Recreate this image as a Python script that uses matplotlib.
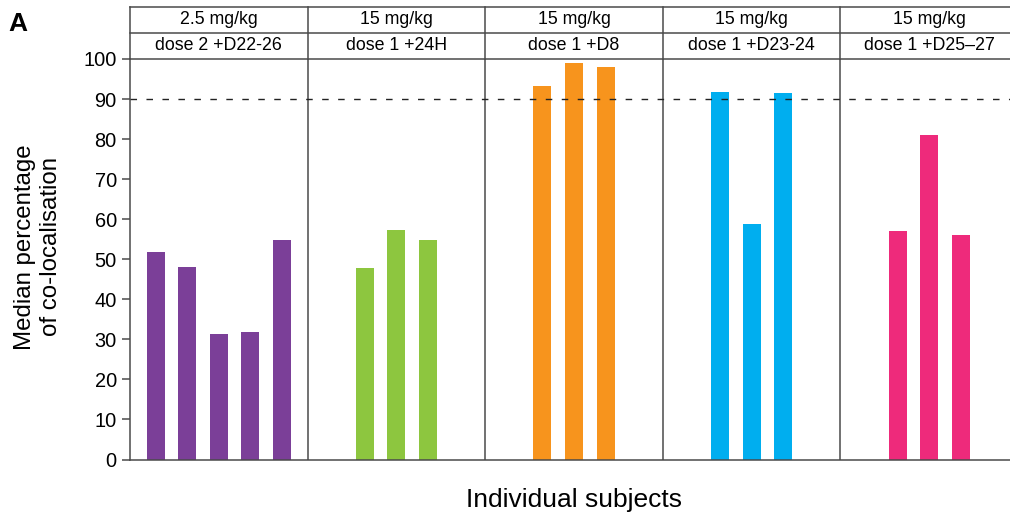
import matplotlib.pyplot as plt
import numpy as np

plt.rcParams["font.family"] = ["Liberation Sans", "DejaVu Sans"]

# ---- data ----
doses = ["2.5 mg/kg", "15 mg/kg", "15 mg/kg", "15 mg/kg", "15 mg/kg"]
timepoints = ["dose 2 +D22-26", "dose 1 +24H", "dose 1 +D8", "dose 1 +D23-24", "dose 1 +D25\u201327"]
purple_vals = [51.9, 48.0, 31.4, 31.9, 54.8]
green_vals = [47.8, 57.2, 54.8]
orange_vals = [93.2, 99.0, 98.1]
blue_vals = [91.8, 58.9, 91.5]
pink_vals = [57.1, 81.0, 56.1]
groups = [purple_vals, green_vals, orange_vals, blue_vals, pink_vals]
colors = ["#7B3F98", "#8DC63F", "#F7941D", "#00AEEF", "#EE2A7B"]
threshold = 90
yticks = list(range(0, 101, 10))

W, H = 1010, 518
fig = plt.figure(figsize=(W / 100, H / 100), dpi=100)

line_col = "#4a4a4a"
ax = fig.add_axes([130 / W, 1 - 459.5 / H, 888 / W, 400.5 / H])
hdr = fig.add_axes([130 / W, 1 - 59 / H, 888 / W, 52 / H])

step = 31.6 / 177.6
bar_w = 18 / 177.6
for p, (vals, col) in enumerate(zip(groups, colors)):
    n = len(vals)
    xs = p + 0.5 + (np.arange(n) - (n - 1) / 2) * step
    ax.bar(xs, vals, width=bar_w, color=col, zorder=2)

for p in range(1, 5):
    ax.axvline(p, color=line_col, lw=1.1, zorder=3)
ax.axhline(threshold, color="#222222", lw=1.0, linestyle=(0, (4.7, 6.8)), zorder=4)

ax.set_xlim(0, 5)
ax.set_ylim(0, 100)
ax.set_yticks(yticks)
ax.set_xticks([])
ax.tick_params(axis="y", length=6, width=1.1, color=line_col, pad=3.5, labelsize=14.4)
for s in ["top", "right"]:
    ax.spines[s].set_visible(False)
for s in ["left", "bottom"]:
    ax.spines[s].set_color(line_col)
    ax.spines[s].set_linewidth(1.1)

# header boxes
hdr.set_xlim(0, 5)
hdr.set_ylim(0, 2)
hdr.axis("off")
for yy in [0, 1, 2]:
    hdr.plot([0, 5], [yy, yy], color=line_col, lw=1.1, clip_on=False)
for p in range(6):
    hdr.plot([p, p], [0, 2], color=line_col, lw=1.1, clip_on=False)
for p in range(5):
    hdr.text(p + 0.5, 1.5, doses[p], ha="center", va="center", fontsize=12.8)
    hdr.text(p + 0.5, 0.5, timepoints[p], ha="center", va="center", fontsize=12.8)

fig.text(38 / W, 1 - 247 / H, "Median percentage\nof co-localisation", rotation=90,
         ha="center", va="center", multialignment="center", fontsize=17.3, linespacing=1.2)
fig.text(574 / W, 1 - 500 / H, "Individual subjects", ha="center", va="center", fontsize=19)
fig.text(8 / W, 1 - 31 / H, "A", fontsize=19, fontweight="bold", ha="left", va="baseline")

fig.savefig("out.png", dpi=100)
